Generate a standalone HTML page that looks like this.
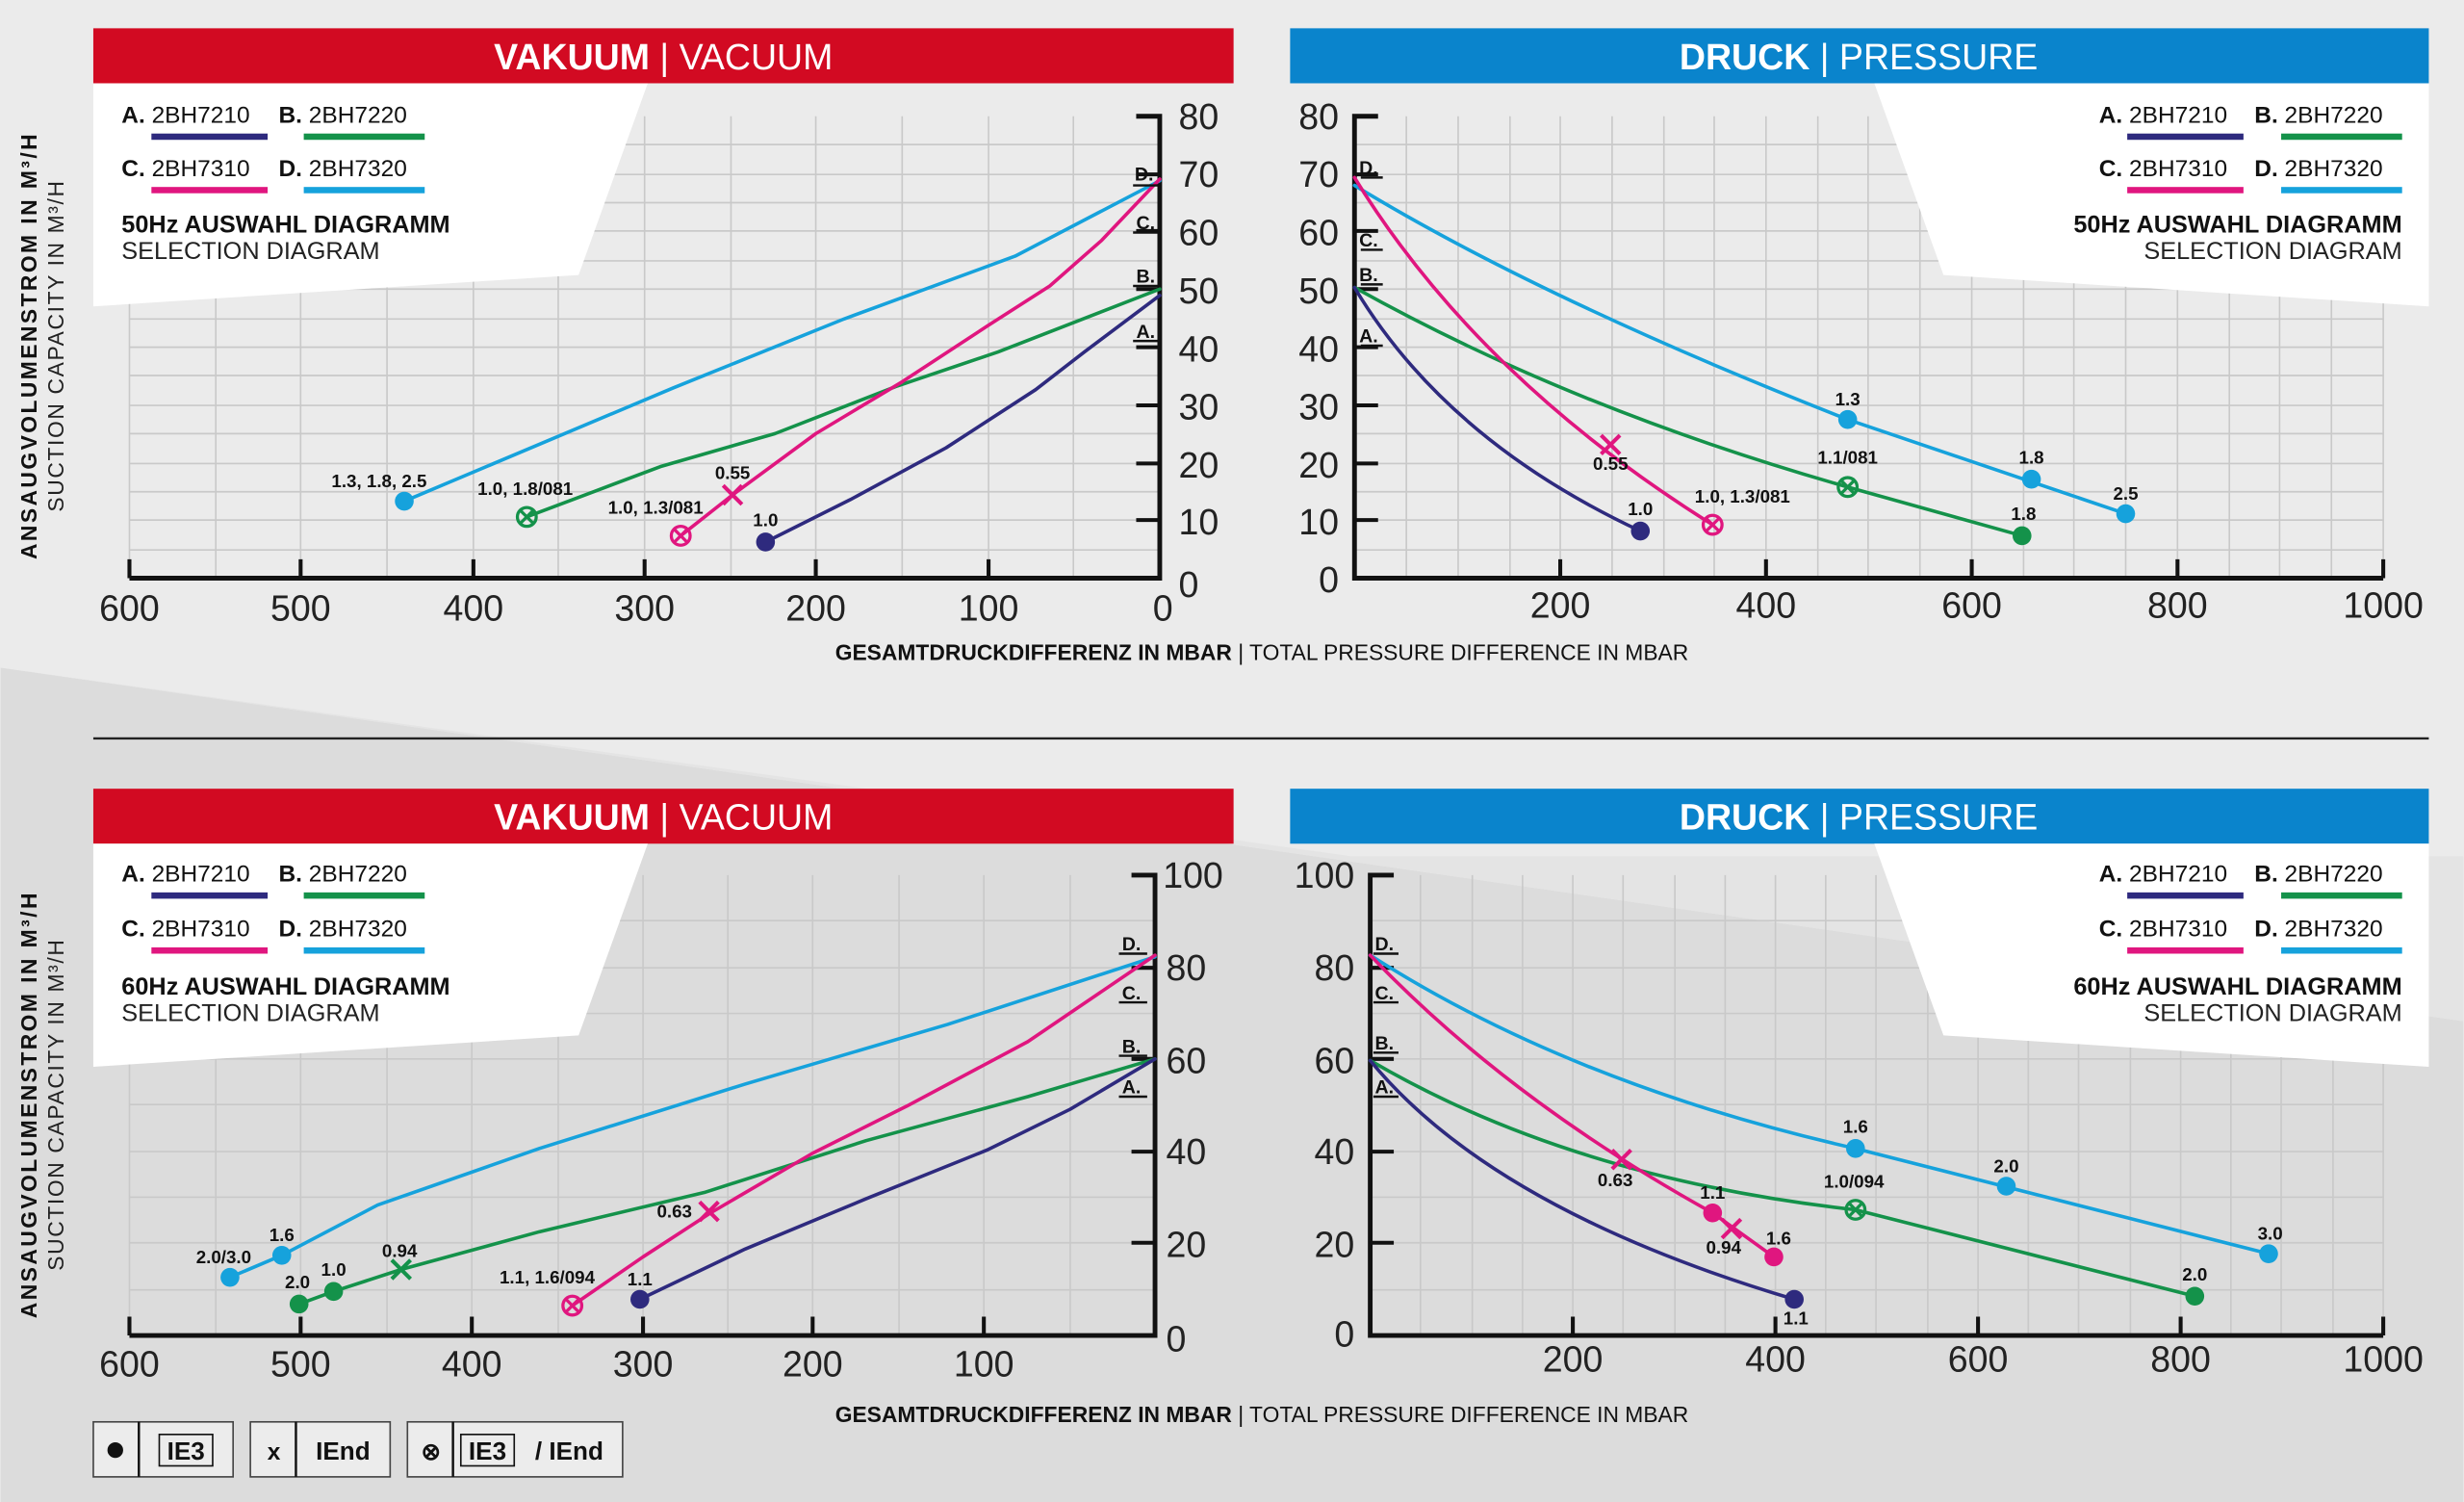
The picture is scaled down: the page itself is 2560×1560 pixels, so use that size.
<!DOCTYPE html>
<html><head><meta charset="utf-8"><style>
html,body{margin:0;padding:0;background:#ebebeb}
svg{display:block}
text{font-family:"Liberation Sans",sans-serif}
.t{font-size:23px;fill:#222}
.s{font-size:11.5px;font-weight:bold;fill:#111}
.lg{font-size:15px;fill:#111}
.gl{stroke:#c9c9c9;stroke-width:1}
.ax{stroke:#111;stroke-width:3;fill:none}
.tk{stroke:#111;stroke-width:2.5}
.A{stroke:#2e2a7e}.B{stroke:#14924a}.C{stroke:#e0167f}.D{stroke:#16a2dc}
.ln{fill:none;stroke-width:2.2;stroke-linejoin:round;stroke-linecap:round}
</style></head><body>
<svg width="2560" height="1560" viewBox="0 0 1568 956" xmlns="http://www.w3.org/2000/svg">
<rect width="1568" height="956" fill="#ebebeb"/>
<polygon points="0,425 1568,650 1568,956 0,956" fill="#dcdcdc"/>
<polygon points="0,425 860,545 1568,545 1568,650" fill="#e4e4e4"/>

<g class="gl">
<path d="M82,74V368M137,74V368M191,74V368M246,74V368M301,74V368M355,74V368M410,74V368M465,74V368M519,74V368M574,74V368M629,74V368M683,74V368"/>
<path d="M82,92H738M82,111H738M82,129H738M82,147H738M82,166H738M82,184H738M82,203H738M82,221H738M82,239H738M82,258H738M82,276H738M82,295H738M82,313H738M82,331H738M82,350H738"/>
<path d="M895,74V368M928,74V368M961,74V368M993,74V368M1026,74V368M1059,74V368M1091,74V368M1124,74V368M1157,74V368M1189,74V368M1222,74V368M1255,74V368M1288,74V368M1320,74V368M1353,74V368M1386,74V368M1419,74V368M1451,74V368M1484,74V368M1517,74V368"/>
<path d="M862,92H1517M862,111H1517M862,129H1517M862,147H1517M862,166H1517M862,184H1517M862,203H1517M862,221H1517M862,239H1517M862,258H1517M862,276H1517M862,295H1517M862,313H1517M862,331H1517M862,350H1517"/>
<path d="M82,557V850M137,557V850M191,557V850M246,557V850M300,557V850M355,557V850M409,557V850M463,557V850M517,557V850M572,557V850M626,557V850M681,557V850"/>
<path d="M82,586H735M82,616H735M82,645H735M82,674H735M82,703H735M82,733H735M82,762H735M82,791H735M82,821H735"/>
<path d="M904,557V850M937,557V850M969,557V850M1001,557V850M1033,557V850M1066,557V850M1098,557V850M1130,557V850M1162,557V850M1194,557V850M1227,557V850M1259,557V850M1291,557V850M1323,557V850M1356,557V850M1388,557V850M1420,557V850M1452,557V850M1485,557V850M1517,557V850"/>
<path d="M872,586H1517M872,616H1517M872,645H1517M872,674H1517M872,703H1517M872,733H1517M872,762H1517M872,791H1517M872,821H1517"/>
</g>

<rect x="59" y="18" width="726" height="35" fill="#d20a22"/>
<rect x="821" y="18" width="725" height="35" fill="#0a84cc"/>
<rect x="59" y="502" width="726" height="35" fill="#d20a22"/>
<rect x="821" y="502" width="725" height="35" fill="#0a84cc"/>
<text x="422" y="44" text-anchor="middle" font-size="23" fill="#fff"><tspan font-weight="bold">VAKUUM</tspan> | VACUUM</text>
<text x="1183" y="44" text-anchor="middle" font-size="23" fill="#fff"><tspan font-weight="bold">DRUCK</tspan> | PRESSURE</text>
<text x="422" y="528" text-anchor="middle" font-size="23" fill="#fff"><tspan font-weight="bold">VAKUUM</tspan> | VACUUM</text>
<text x="1183" y="528" text-anchor="middle" font-size="23" fill="#fff"><tspan font-weight="bold">DRUCK</tspan> | PRESSURE</text>

<polygon points="59,53 412,53 368,175 59,195" fill="#fff"/>
<polygon points="1193,53 1546,53 1546,195 1237,175" fill="#fff"/>
<polygon points="59,537 412,537 368,659 59,679" fill="#fff"/>
<polygon points="1193,537 1546,537 1546,679 1237,659" fill="#fff"/>

<g>
<text x="77" y="78" class="lg"><tspan font-weight="bold">A.</tspan> 2BH7210</text>
<text x="177" y="78" class="lg"><tspan font-weight="bold">B.</tspan> 2BH7220</text>
<rect x="96" y="85" width="74" height="4" fill="#2e2a7e"/><rect x="193" y="85" width="77" height="4" fill="#14924a"/>
<text x="77" y="112" class="lg"><tspan font-weight="bold">C.</tspan> 2BH7310</text>
<text x="177" y="112" class="lg"><tspan font-weight="bold">D.</tspan> 2BH7320</text>
<rect x="96" y="119" width="74" height="4" fill="#e0167f"/><rect x="193" y="119" width="77" height="4" fill="#16a2dc"/>
<text x="77" y="148" font-size="15.5" font-weight="bold" fill="#111">50Hz AUSWAHL DIAGRAMM</text>
<text x="77" y="165" font-size="15.5" fill="#222">SELECTION DIAGRAM</text>
</g>
<g>
<text x="1336" y="78" class="lg"><tspan font-weight="bold">A.</tspan> 2BH7210</text>
<text x="1435" y="78" class="lg"><tspan font-weight="bold">B.</tspan> 2BH7220</text>
<rect x="1354" y="85" width="74" height="4" fill="#2e2a7e"/><rect x="1452" y="85" width="77" height="4" fill="#14924a"/>
<text x="1336" y="112" class="lg"><tspan font-weight="bold">C.</tspan> 2BH7310</text>
<text x="1435" y="112" class="lg"><tspan font-weight="bold">D.</tspan> 2BH7320</text>
<rect x="1354" y="119" width="74" height="4" fill="#e0167f"/><rect x="1452" y="119" width="77" height="4" fill="#16a2dc"/>
<text x="1529" y="148" text-anchor="end" font-size="15.5" font-weight="bold" fill="#111">50Hz AUSWAHL DIAGRAMM</text>
<text x="1529" y="165" text-anchor="end" font-size="15.5" fill="#222">SELECTION DIAGRAM</text>
</g>
<g>
<text x="77" y="561" class="lg"><tspan font-weight="bold">A.</tspan> 2BH7210</text>
<text x="177" y="561" class="lg"><tspan font-weight="bold">B.</tspan> 2BH7220</text>
<rect x="96" y="568" width="74" height="4" fill="#2e2a7e"/><rect x="193" y="568" width="77" height="4" fill="#14924a"/>
<text x="77" y="596" class="lg"><tspan font-weight="bold">C.</tspan> 2BH7310</text>
<text x="177" y="596" class="lg"><tspan font-weight="bold">D.</tspan> 2BH7320</text>
<rect x="96" y="603" width="74" height="4" fill="#e0167f"/><rect x="193" y="603" width="77" height="4" fill="#16a2dc"/>
<text x="77" y="633" font-size="15.5" font-weight="bold" fill="#111">60Hz AUSWAHL DIAGRAMM</text>
<text x="77" y="650" font-size="15.5" fill="#222">SELECTION DIAGRAM</text>
</g>
<g>
<text x="1336" y="561" class="lg"><tspan font-weight="bold">A.</tspan> 2BH7210</text>
<text x="1435" y="561" class="lg"><tspan font-weight="bold">B.</tspan> 2BH7220</text>
<rect x="1354" y="568" width="74" height="4" fill="#2e2a7e"/><rect x="1452" y="568" width="77" height="4" fill="#14924a"/>
<text x="1336" y="596" class="lg"><tspan font-weight="bold">C.</tspan> 2BH7310</text>
<text x="1435" y="596" class="lg"><tspan font-weight="bold">D.</tspan> 2BH7320</text>
<rect x="1354" y="603" width="74" height="4" fill="#e0167f"/><rect x="1452" y="603" width="77" height="4" fill="#16a2dc"/>
<text x="1529" y="633" text-anchor="end" font-size="15.5" font-weight="bold" fill="#111">60Hz AUSWAHL DIAGRAMM</text>
<text x="1529" y="650" text-anchor="end" font-size="15.5" fill="#222">SELECTION DIAGRAM</text>
</g>

<text transform="translate(23,220) rotate(-90)" text-anchor="middle" font-size="14" font-weight="bold" fill="#111" letter-spacing="1.5">ANSAUGVOLUMENSTROM IN M³/H</text>
<text transform="translate(40,220) rotate(-90)" text-anchor="middle" font-size="14" fill="#222" letter-spacing="1">SUCTION CAPACITY IN M³/H</text>
<text transform="translate(23,703) rotate(-90)" text-anchor="middle" font-size="14" font-weight="bold" fill="#111" letter-spacing="1.5">ANSAUGVOLUMENSTROM IN M³/H</text>
<text transform="translate(40,703) rotate(-90)" text-anchor="middle" font-size="14" fill="#222" letter-spacing="1">SUCTION CAPACITY IN M³/H</text>

<text x="803" y="420" text-anchor="middle" font-size="14" fill="#111"><tspan font-weight="bold">GESAMTDRUCKDIFFERENZ IN MBAR</tspan> | TOTAL PRESSURE DIFFERENCE IN MBAR</text>
<text x="803" y="905" text-anchor="middle" font-size="14" fill="#111"><tspan font-weight="bold">GESAMTDRUCKDIFFERENZ IN MBAR</tspan> | TOTAL PRESSURE DIFFERENCE IN MBAR</text>
<line x1="59" y1="470" x2="1546" y2="470" stroke="#222" stroke-width="1.5"/>

<path class="ax" d="M82,368H738V74H723"/>
<path class="tk" d="M82,368V356M191,368V356M301,368V356M410,368V356M519,368V356M629,368V356M723,331H738M723,295H738M723,258H738M723,221H738M723,184H738M723,147H738M723,111H738"/>
<g class="t" text-anchor="middle">
<text x="82" y="395">600</text><text x="191" y="395">500</text><text x="301" y="395">400</text><text x="410" y="395">300</text><text x="519" y="395">200</text><text x="629" y="395">100</text><text x="740" y="395">0</text>
</g>
<g class="t">
<text x="750" y="82">80</text><text x="750" y="119">70</text><text x="750" y="156">60</text><text x="750" y="193">50</text><text x="750" y="230">40</text><text x="750" y="267">30</text><text x="750" y="304">20</text><text x="750" y="340">10</text><text x="750" y="380">0</text>
</g>
<path class="ax" d="M877,74H862V368H1517"/>
<path class="tk" d="M993,368V356M1124,368V356M1255,368V356M1386,368V356M1517,368V356M862,331H877M862,295H877M862,258H877M862,221H877M862,184H877M862,147H877M862,111H877"/>
<g class="t" text-anchor="middle">
<text x="993" y="393">200</text><text x="1124" y="393">400</text><text x="1255" y="393">600</text><text x="1386" y="393">800</text><text x="1517" y="393">1000</text>
</g>
<g class="t" text-anchor="end">
<text x="852" y="82">80</text><text x="852" y="119">70</text><text x="852" y="156">60</text><text x="852" y="193">50</text><text x="852" y="230">40</text><text x="852" y="267">30</text><text x="852" y="304">20</text><text x="852" y="340">10</text><text x="852" y="377">0</text>
</g>
<path class="ax" d="M82,850H735V557H720"/>
<path class="tk" d="M82,850V838M191,850V838M300,850V838M409,850V838M517,850V838M626,850V838M720,791H735M720,733H735M720,674H735M720,616H735"/>
<g class="t" text-anchor="middle">
<text x="82" y="876">600</text><text x="191" y="876">500</text><text x="300" y="876">400</text><text x="409" y="876">300</text><text x="517" y="876">200</text><text x="626" y="876">100</text>
</g>
<g class="t">
<text x="740" y="565">100</text><text x="742" y="624">80</text><text x="742" y="683">60</text><text x="742" y="741">40</text><text x="742" y="800">20</text><text x="742" y="860">0</text>
</g>
<path class="ax" d="M887,557H872V850H1517"/>
<path class="tk" d="M1001,850V838M1130,850V838M1259,850V838M1388,850V838M1517,850V838M872,791H887M872,733H887M872,674H887M872,616H887"/>
<g class="t" text-anchor="middle">
<text x="1001" y="873">200</text><text x="1130" y="873">400</text><text x="1259" y="873">600</text><text x="1388" y="873">800</text><text x="1517" y="873">1000</text>
</g>
<g class="t" text-anchor="end">
<text x="862" y="565">100</text><text x="862" y="624">80</text><text x="862" y="683">60</text><text x="862" y="741">40</text><text x="862" y="800">20</text><text x="862" y="857">0</text>
</g>

<!-- SERIES -->
<path class="ln D" d="M257,319 L428,247 L537,203 L646,163 L738,115"/>
<path class="ln B" d="M335,329 L420,297 L493,276 L570,246 L635,224 L738,184"/>
<path class="ln C" d="M433,341 L466,315 L519,276 L574,243 L629,207 L668,182 L701,153 L738,114"/>
<path class="ln A" d="M487,345 L541,318 L602,285 L659,248 L690,224 L738,188"/>

<path class="ln D" d="M862,118 Q980,190 1176,267 L1353,327"/>
<path class="ln B" d="M862,183 Q1000,260 1176,310 L1287,341"/>
<path class="ln C" d="M862,113 Q940,240 1090,334"/>
<path class="ln A" d="M862,183 Q920,280 1044,338"/>

<path class="ln D" d="M146,813 L179,799 L240,767 L343,731 L474,690 L603,652 L735,609"/>
<path class="ln B" d="M190,830 L212,822 L255,808 L343,784 L448,759 L551,726 L654,698 L735,674"/>
<path class="ln C" d="M364,831 L409,800 L452,772 L517,734 L577,704 L654,663 L735,608"/>
<path class="ln A" d="M407,827 L474,795 L551,763 L628,732 L681,706 L735,674"/>

<path class="ln D" d="M872,608 Q1000,690 1181,731 L1444,798"/>
<path class="ln B" d="M872,675 Q1000,750 1181,770 L1397,825"/>
<path class="ln C" d="M872,608 Q960,700 1090,772 L1129,800"/>
<path class="ln A" d="M872,675 Q950,770 1142,827"/>

<g font-size="12" font-weight="bold" fill="#111">
<text x="722" y="115">D.</text><text x="723" y="146">C.</text><text x="723" y="180">B.</text><text x="723" y="215">A.</text>
<text x="865" y="111">D.</text><text x="865" y="157">C.</text><text x="865" y="179">B.</text><text x="865" y="218">A.</text>
<text x="714" y="605">D.</text><text x="714" y="636">C.</text><text x="714" y="670">B.</text><text x="714" y="696">A.</text>
<text x="875" y="605">D.</text><text x="875" y="636">C.</text><text x="875" y="668">B.</text><text x="875" y="696">A.</text>
</g>
<g stroke="#111" stroke-width="1.5">
<path d="M721,118H737M721,148H737M721,182H737M721,217H737M866,113H880M866,159H880M866,181H880M866,220H880M712,607H730M712,638H730M712,672H730M712,698H730M874,607H890M874,638H890M874,670H890M874,698H890"/>
</g>

<g>
<circle cx="257" cy="319" r="6" fill="#16a2dc"/>
<circle cx="487" cy="345" r="6" fill="#2e2a7e"/>
<circle cx="1044" cy="338" r="6" fill="#2e2a7e"/>
<circle cx="1176" cy="267" r="6" fill="#16a2dc"/>
<circle cx="1293" cy="305" r="6" fill="#16a2dc"/>
<circle cx="1353" cy="327" r="6" fill="#16a2dc"/>
<circle cx="1287" cy="341" r="6" fill="#14924a"/>
<circle cx="146" cy="813" r="6" fill="#16a2dc"/>
<circle cx="179" cy="799" r="6" fill="#16a2dc"/>
<circle cx="190" cy="830" r="6" fill="#14924a"/>
<circle cx="212" cy="822" r="6" fill="#14924a"/>
<circle cx="407" cy="827" r="6" fill="#2e2a7e"/>
<circle cx="1181" cy="731" r="6" fill="#16a2dc"/>
<circle cx="1277" cy="755" r="6" fill="#16a2dc"/>
<circle cx="1444" cy="798" r="6" fill="#16a2dc"/>
<circle cx="1397" cy="825" r="6" fill="#14924a"/>
<circle cx="1090" cy="772" r="6" fill="#e0167f"/>
<circle cx="1129" cy="800" r="6" fill="#e0167f"/>
<circle cx="1142" cy="827" r="6" fill="#2e2a7e"/>
</g>
<g fill="none" stroke-width="2">
<g class="B"><circle cx="335" cy="329" r="6"/><path d="M331,325L339,333M339,325L331,333"/></g>
<g class="C"><circle cx="433" cy="341" r="6"/><path d="M429,337L437,345M437,337L429,345"/></g>
<g class="C"><circle cx="1090" cy="334" r="6"/><path d="M1086,330L1094,338M1094,330L1086,338"/></g>
<g class="B"><circle cx="1176" cy="310" r="6"/><path d="M1172,306L1180,314M1180,306L1172,314"/></g>
<g class="C"><circle cx="364" cy="831" r="6"/><path d="M360,827L368,835M368,827L360,835"/></g>
<g class="B"><circle cx="1181" cy="770" r="6"/><path d="M1177,766L1185,774M1185,766L1177,774"/></g>
</g>
<g stroke-width="2.5" fill="none">
<path class="C" d="M460,309L472,321M472,309L460,321"/>
<path class="C" d="M1019,277L1031,289M1031,277L1019,289"/>
<path class="B" d="M249,802L261,814M261,802L249,814"/>
<path class="C" d="M445,765L457,777M457,765L445,777"/>
<path class="C" d="M1026,732L1038,744M1038,732L1026,744"/>
<path class="C" d="M1096,776L1108,788M1108,776L1096,788"/>
</g>
<g class="s" text-anchor="middle">
<text x="241" y="310">1.3, 1.8, 2.5</text>
<text x="334" y="315">1.0, 1.8/081</text>
<text x="417" y="327">1.0, 1.3/081</text>
<text x="466" y="305">0.55</text>
<text x="487" y="335">1.0</text>
<text x="1044" y="328">1.0</text>
<text x="1025" y="299">0.55</text>
<text x="1109" y="320">1.0, 1.3/081</text>
<text x="1176" y="258">1.3</text>
<text x="1176" y="295">1.1/081</text>
<text x="1293" y="295">1.8</text>
<text x="1288" y="331">1.8</text>
<text x="1353" y="318">2.5</text>
<text x="142" y="804">2.0/3.0</text>
<text x="179" y="790">1.6</text>
<text x="189" y="820">2.0</text>
<text x="212" y="812">1.0</text>
<text x="254" y="800">0.94</text>
<text x="429" y="775">0.63</text>
<text x="348" y="817">1.1, 1.6/094</text>
<text x="407" y="818">1.1</text>
<text x="1181" y="721">1.6</text>
<text x="1180" y="756">1.0/094</text>
<text x="1277" y="746">2.0</text>
<text x="1445" y="789">3.0</text>
<text x="1397" y="815">2.0</text>
<text x="1028" y="755">0.63</text>
<text x="1090" y="763">1.1</text>
<text x="1097" y="798">0.94</text>
<text x="1132" y="792">1.6</text>
<text x="1143" y="843">1.1</text>
</g>

<g fill="#ececec" stroke="#444" stroke-width="1">
<rect x="59" y="905" width="89" height="35"/><rect x="159" y="905" width="89" height="35"/><rect x="259" y="905" width="137" height="35"/>
</g>
<g stroke="#111" stroke-width="1.5"><path d="M88,905V940M188,905V940M288,905V940"/></g>
<circle cx="73" cy="923" r="5" fill="#111"/>
<rect x="101" y="913" width="34" height="20" fill="none" stroke="#111" stroke-width="1"/>
<text x="118" y="929" text-anchor="middle" font-size="16" font-weight="bold" fill="#111">IE3</text>
<text x="174" y="929" text-anchor="middle" font-size="15" font-weight="bold" fill="#111">x</text>
<text x="218" y="929" text-anchor="middle" font-size="16" font-weight="bold" fill="#111">IEnd</text>
<text x="274" y="929" text-anchor="middle" font-size="15" font-weight="bold" fill="#111">⊗</text>
<rect x="293" y="913" width="34" height="20" fill="none" stroke="#111" stroke-width="1"/>
<text x="310" y="929" text-anchor="middle" font-size="16" font-weight="bold" fill="#111">IE3</text>
<text x="362" y="929" text-anchor="middle" font-size="16" font-weight="bold" fill="#111">/ IEnd</text>
</svg>
</body></html>
